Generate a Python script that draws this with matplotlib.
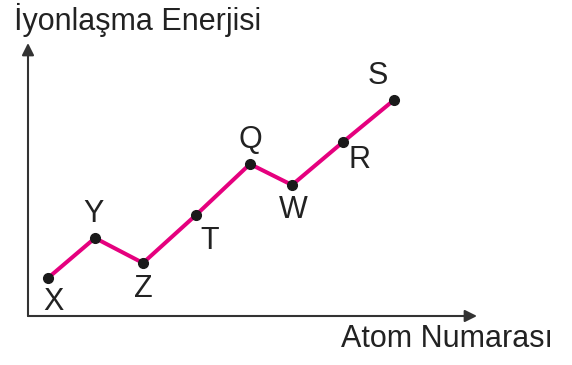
import matplotlib
matplotlib.use("Agg")
import matplotlib.pyplot as plt

# atom number positions and ionisation energies (arbitrary units)
elements = ["X", "Y", "Z", "T", "Q", "W", "R", "S"]
atom_number = [20, 67, 115, 168, 222, 264, 315, 366]
energy = [38, 78, 53, 101, 152, 131, 174, 216]

# label offsets (points) from each dot
label_offsets = {
    "X": (4, -17), "Y": (-1, 17), "Z": (0, -19), "T": (10, -19),
    "Q": (0, 17), "W": (1, -18), "R": (12, -13), "S": (-12, 17),
}

plt.rcParams["font.family"] = ["Liberation Sans", "DejaVu Sans"]
W, H = 572, 365
fig = plt.figure(figsize=(W / 100, H / 100), dpi=100, facecolor="white")
ax = fig.add_axes([28 / W, (H - 316) / H, 449 / W, 273 / H])
ax.set_xlim(0, 449)
ax.set_ylim(0, 273)
ax.axis("off")

axis_col = "#333333"
ax.annotate("", xy=(0, 1), xytext=(0, 0), xycoords="axes fraction",
            arrowprops=dict(arrowstyle="-|>", color=axis_col, lw=1.5,
                            mutation_scale=18, shrinkA=0, shrinkB=0))
ax.annotate("", xy=(1, 0), xytext=(0, 0), xycoords="axes fraction",
            arrowprops=dict(arrowstyle="-|>", color=axis_col, lw=1.5,
                            mutation_scale=18, shrinkA=0, shrinkB=0))

ax.plot(atom_number, energy, color="#e5007e", lw=2.9, zorder=2)
ax.plot(atom_number, energy, "o", color="#1a1a1a", ms=7, zorder=3)

for name, x, y in zip(elements, atom_number, energy):
    ax.annotate(name, (x, y), xytext=label_offsets[name], textcoords="offset points",
                ha="center", va="center", fontsize=22, color="#222222")

fig.text(14 / W, 1 - 20 / H, "İyonlaşma Enerjisi", ha="left", va="center",
         fontsize=22, color="#222222")
fig.text(553 / W, 1 - 339 / H, "Atom Numarası", ha="right", va="center",
         fontsize=22, color="#222222")

fig.savefig("out.png", dpi=100, facecolor="white")
